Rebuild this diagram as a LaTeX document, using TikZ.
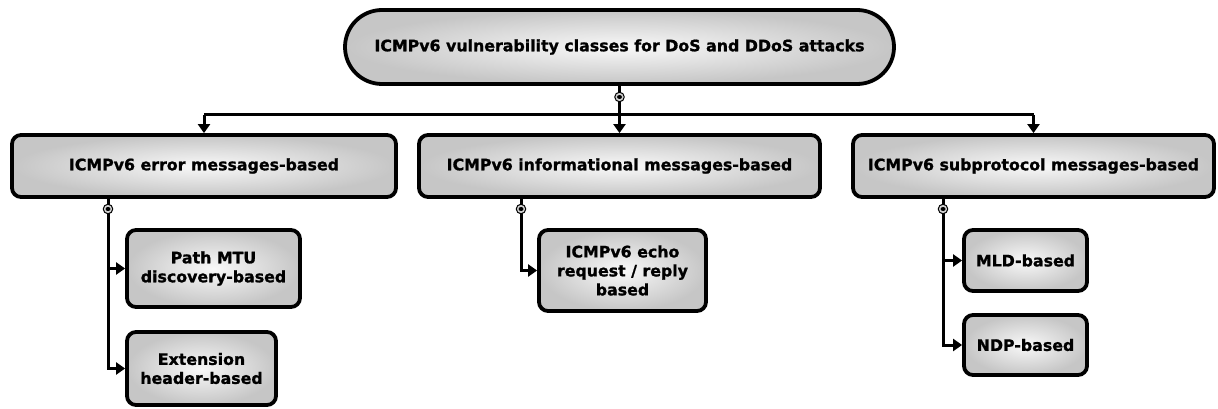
\documentclass[tikz,border=0pt]{standalone}
\usepackage{fontspec}
\setmainfont{DejaVu Sans}
\newfontfamily\boxfont{DejaVu Sans Bold}[FakeBold=1.2]
\usepackage{tikz}
\usetikzlibrary{arrows.meta, positioning, shapes.geometric}

\tikzset{
  box/.style={draw, line width=3.8pt, rounded corners=9pt, shading=radial,
    inner color=gray!5, outer color=gray!45, align=center,
    font=\fontsize{15.8}{19}\selectfont\boxfont, inner sep=2pt},
  rootbox/.style={box, rounded corners=37pt},
  wire/.style={line width=3pt},
  arrow/.style={wire, -{Triangle[length=9pt, width=12pt]}},
  port/.style={circle, draw, line width=1pt, fill=gray!35, minimum size=9.5pt, inner sep=0pt},
  dot/.style={ellipse, fill=black, minimum width=5pt, minimum height=4pt, inner sep=0pt}
}

\begin{document}
\begin{tikzpicture}[x=1pt, y=-1pt]
		\useasboundingbox (0,0) rectangle (1218,409);
		% Nodes:
		\node[rootbox, minimum width=549pt, minimum height=74pt] (root) at (619.5, 47) {ICMPv6 vulnerability classes for DoS and DDoS attacks};
		\node[box, minimum width=384pt, minimum height=62pt] (err) at (204, 166) {ICMPv6 error messages-based};
		\node[box, minimum width=401pt, minimum height=62pt] (info) at (619.5, 166) {ICMPv6 informational messages-based};
		\node[box, minimum width=361pt, minimum height=62pt] (sub) at (1033.5, 166) {ICMPv6 subprotocol messages-based};
		\node[box, minimum width=173pt, minimum height=77pt] (mtu) at (213.5, 268.5) {Path MTU\\discovery-based};
		\node[box, minimum width=149pt, minimum height=73pt] (ext) at (201.5, 368.5) {Extension\\header-based};
		\node[box, minimum width=167pt, minimum height=81pt] (echo) at (622.5, 270.5) {ICMPv6 echo\\request / reply\\based};
		\node[box, minimum width=123pt, minimum height=61pt] (mld) at (1025.5, 260.5) {MLD-based};
		\node[box, minimum width=123pt, minimum height=60pt] (ndp) at (1025.5, 345) {NDP-based};
		\coordinate (bus) at (619.5, 115);
		\coordinate (p0) at (619.5, 97);
		\coordinate (p1) at (108, 209);
		\coordinate (p2) at (521, 209);
		\coordinate (p3) at (943, 209);
		% Connectors:
		\draw[wire] (root) -- (bus);
		\draw[wire] (bus -| err) -- (bus -| sub);
		\draw[arrow] (bus -| err) -- (err);
		\draw[arrow] (bus -| info) -- (info);
		\draw[arrow] (bus -| sub) -- (sub);
		\draw[wire] (err.south -| p1) -- (p1);
		\draw[arrow] (p1) |- (mtu);
		\draw[arrow] (p1) |- (ext);
		\draw[wire] (info.south -| p2) -- (p2);
		\draw[arrow] (p2) |- (echo);
		\draw[wire] (sub.south -| p3) -- (p3);
		\draw[arrow] (p3) |- (mld);
		\draw[arrow] (p3) |- (ndp);
		% Ports:
		\foreach \p in {p0, p1, p2, p3}
			\node[port] at (\p) {} node[dot] at (\p) {};
	\end{tikzpicture}
\end{document}
